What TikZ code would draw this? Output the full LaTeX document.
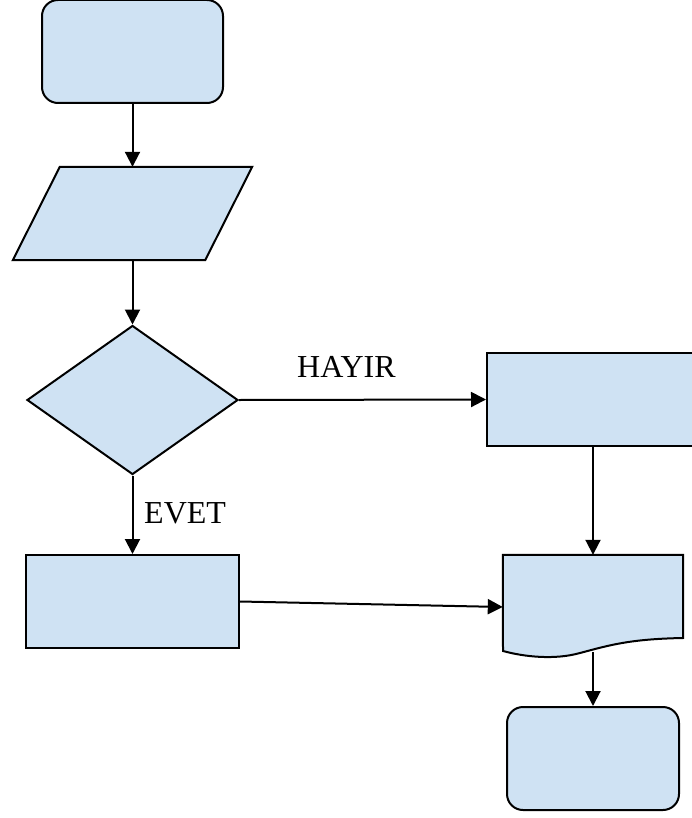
\documentclass[tikz,border=0pt]{standalone}
\usepackage{fontspec}
\setmainfont{Liberation Serif}
\usetikzlibrary{shapes.geometric,arrows.meta,calc}
\definecolor{boxfill}{HTML}{CFE2F3}
\tikzset{
  shapebase/.style={draw=black, fill=boxfill, line width=2pt, inner sep=0pt},
  terminal/.style={shapebase, rectangle, rounded corners=16pt},
  process/.style={shapebase, rectangle},
  frame/.style={rectangle, inner sep=0pt},
  decision/.style={shapebase, diamond},
  flow/.style={line width=2pt, -{Triangle[length=15pt,width=15pt]}},
  lbl/.style={font=\fontsize{32}{36}\selectfont, inner sep=0pt, anchor=base west}
}
\begin{document}
\begin{tikzpicture}[x=1pt,y=-1pt]
\useasboundingbox (0,0) rectangle (692,818);
\clip (0,0) rectangle (692,818);

% left column
\node[terminal, minimum width=181pt, minimum height=103pt] (start) at (132.5,51.5) {};
\node[frame, minimum width=239pt, minimum height=93pt] (input) at (132.5,213.5) {};
\draw[shapebase] ($(input.north west)+(47,0)$) -- (input.north east)
  -- ($(input.south east)+(-47,0)$) -- (input.south west) -- cycle;
\node[decision, minimum width=211pt, minimum height=149pt] (check) at (132.5,400) {};
\node[process, minimum width=213pt, minimum height=93pt] (yesbox) at (132.5,601.5) {};

% right column
\node[process, minimum width=212pt, minimum height=93pt] (nobox) at (593,399.5) {};
\node[frame, minimum width=180pt, minimum height=97pt] (doc) at (593,603.5) {};
\draw[shapebase] (doc.north west) -- (doc.north east) -- (683,638)
  .. controls (630,639) and (610,645) .. (580,653)
  .. controls (555,660) and (525,657) .. (503,651) -- cycle;
\coordinate (docbottom) at (593,652);
\node[terminal, minimum width=172pt, minimum height=103pt] (finish) at (593,758.5) {};

% connectors
\draw[flow] (start.south) -- (input.north);
\draw[flow] (input.south) -- (check.north);
\draw[flow] (check.east) -- (nobox.west);
\draw[flow] (check.south) -- (yesbox.north);
\draw[flow] (nobox.south) -- (doc.north);
\draw[flow] (yesbox.east) -- ($(doc.west)+(0,3.5)$);
\draw[flow] (docbottom) -- (finish.north);

% labels
\node[lbl] (lblno) at (297,377) {HAYIR};
\node[lbl] (lblyes) at (144,523) {EVET};
\end{tikzpicture}
\end{document}
